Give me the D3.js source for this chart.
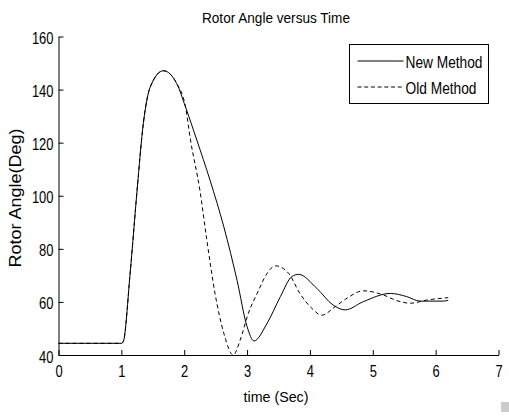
<!DOCTYPE html>
<html>
<head>
<meta charset="utf-8">
<script src="https://cdn.jsdelivr.net/npm/d3@7"></script>
<style>
  body { margin: 0; background: #fff; }
  text { font-family: "Liberation Sans", Arial, sans-serif; fill: #000; }
</style>
</head>
<body>
<script>
// Rotor angle data (time in s, angle in deg)
var newTime  = [0, 1.0, 1.03, 1.14, 1.25, 1.35, 1.46, 1.67, 1.88, 2.02, 2.2, 2.41, 2.63, 2.84, 3.0, 3.11, 3.32, 3.53, 3.71, 3.82, 4.11, 4.37, 4.56, 4.85, 5.28, 5.54, 5.75, 6.12, 6.2];
var newAngle = [44.4, 44.4, 45, 70.9, 102, 127.3, 141, 147.1, 142.3, 133.5, 121, 105.9, 88.3, 68.2, 50.7, 45.3, 52, 62, 69.5, 70.4, 65.1, 58.8, 57, 60.1, 63.2, 62, 60.3, 60.3, 60.6];

var oldTime  = [0, 1.0, 1.03, 1.14, 1.25, 1.35, 1.46, 1.67, 1.88, 2.02, 2.1, 2.25, 2.36, 2.49, 2.63, 2.78, 2.89, 3.02, 3.16, 3.32, 3.45, 3.66, 3.84, 4.03, 4.19, 4.4, 4.59, 4.85, 5.17, 5.38, 5.6, 5.86, 6.2];
var oldAngle = [44.4, 44.4, 45, 70.9, 102, 127.3, 141, 147.1, 142.3, 133.5, 121, 102, 83.3, 63.2, 48.2, 40, 45.6, 55.7, 63.2, 70.8, 73.6, 70.8, 63.2, 57.6, 55, 58.2, 61.4, 64.2, 62.6, 60.5, 59.5, 60.7, 61.6];

var xTicks = [0, 1, 2, 3, 4, 5, 6, 7];
var yTicks = [40, 60, 80, 100, 120, 140, 160];
var seriesNames = ["New Method", "Old Method"];

var width = 509, height = 417;
var margin = {left: 58.5, right: 10.5, top: 36.5, bottom: 62};

var svg = d3.select("body").append("svg")
    .attr("width", width)
    .attr("height", height);

// squeeze text horizontally, the original uses a narrow font
function narrow(sel, w) {
    sel.attr("textLength", w).attr("lengthAdjust", "spacingAndGlyphs");
}

var x = d3.scaleLinear().domain([0, 7]).range([margin.left, width - margin.right]);
var y = d3.scaleLinear().domain([40, 160]).range([height - margin.bottom, margin.top]);

//axes, ticks pointing inward
var xAxis = d3.axisBottom(x).tickValues(xTicks).tickFormat(d3.format("d"))
    .tickSizeInner(-5).tickSizeOuter(0).tickPadding(10);
var yAxis = d3.axisLeft(y).tickValues(yTicks).tickFormat(d3.format("d"))
    .tickSizeInner(-5).tickSizeOuter(0).tickPadding(10);

var gx = svg.append("g")
    .attr("transform", "translate(0," + y(40) + ")")
    .call(xAxis);
var gy = svg.append("g")
    .attr("transform", "translate(" + x(0) + ",0)")
    .call(yAxis);

[gx, gy].forEach(function (g) {
    g.selectAll("path, line").attr("stroke", "#000");
    g.selectAll("text")
        .style("font-size", "16.5px")
        .attr("fill", "#000")
        .attr("textLength", function (d) { return String(d).length * 7.2; })
        .attr("lengthAdjust", "spacingAndGlyphs");
});
gx.selectAll("text").attr("y", 0).attr("dy", "22px");
gy.selectAll("text").attr("x", -5).attr("dy", "7px");

//curves
var line = d3.line()
    .x(function (d) { return x(d[0]); })
    .y(function (d) { return y(d[1]); })
    .curve(d3.curveMonotoneX);

svg.append("path")
    .datum(oldTime.map(function (t, i) { return [t, oldAngle[i]]; }))
    .attr("d", line)
    .attr("fill", "none")
    .attr("stroke", "#000")
    .attr("stroke-width", 1)
    .attr("stroke-dasharray", "4,3");

svg.append("path")
    .datum(newTime.map(function (t, i) { return [t, newAngle[i]]; }))
    .attr("d", line)
    .attr("fill", "none")
    .attr("stroke", "#000")
    .attr("stroke-width", 1);

//title + labels
svg.append("text")
    .attr("x", 276).attr("y", 23)
    .attr("text-anchor", "middle")
    .style("font-size", "15.5px")
    .text("Rotor Angle versus Time")
    .call(narrow, 148);

svg.append("text")
    .attr("x", 276).attr("y", 402)
    .attr("text-anchor", "middle")
    .style("font-size", "15.5px")
    .text("time (Sec)")
    .call(narrow, 65);

svg.append("text")
    .attr("transform", "translate(21,198) rotate(-90)")
    .attr("text-anchor", "middle")
    .style("font-size", "16.5px")
    .text("Rotor Angle(Deg)")
    .call(narrow, 139);

//legend
var leg = svg.append("g").attr("transform", "translate(349.5,44.5)");
leg.append("rect")
    .attr("width", 139).attr("height", 59)
    .attr("fill", "#fff").attr("stroke", "#000");
seriesNames.forEach(function (name, i) {
    var ly = 16.5 + i * 26;
    leg.append("line")
        .attr("x1", 8).attr("x2", 54)
        .attr("y1", ly).attr("y2", ly)
        .attr("stroke", "#000")
        .attr("stroke-dasharray", i === 1 ? "4,2.7" : null);
    leg.append("text")
        .attr("x", 56).attr("y", ly + 6.5)
        .style("font-size", "16.5px")
        .text(name)
        .call(narrow, i === 0 ? 77 : 71);
});

//small grey mark in the bottom right corner of the picture
svg.append("rect")
    .attr("x", 501).attr("y", 402).attr("width", 8).attr("height", 10)
    .attr("fill", "#ccc");
</script>
</body>
</html>
